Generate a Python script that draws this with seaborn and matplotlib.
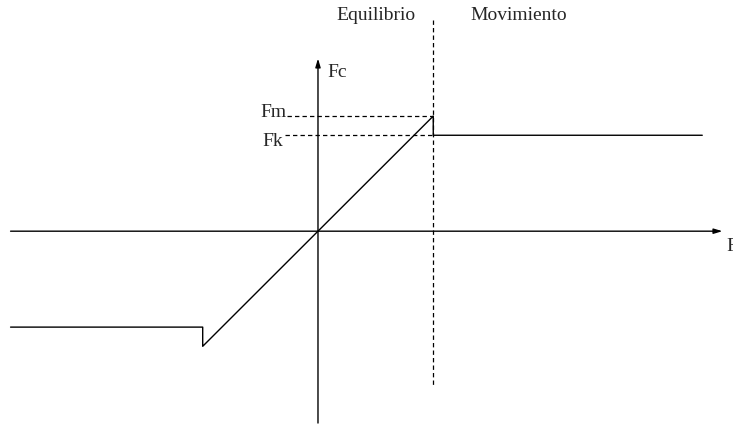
import numpy as np
import matplotlib
matplotlib.use('Agg')
import matplotlib.pyplot as plt
import seaborn as sns
import pandas as pd

# Fc(F) curve, units where Fk = 1
F_vals = [-3.2, -1.2, -1.2, 0.0, 1.2, 1.2, 4.0]
Fc_vals = [-1.0, -1.0, -1.2, 0.0, 1.2, 1.0, 1.0]
Fm = 1.2
Fk = 1.0
F_break = 1.2
region_labels = ['Equilibrio', 'Movimiento']

df = pd.DataFrame({'F': F_vals, 'Fc': Fc_vals, 'order': range(len(F_vals))})

sns.set_style('white')
plt.rcParams['font.family'] = ['Liberation Serif', 'DejaVu Serif']

fig = plt.figure(figsize=(7.33, 4.24), dpi=100)
ax = fig.add_axes([0, 0, 1, 1])
ax.set_xlim(-3.31, 4.32)
ax.set_ylim(-2.01, 2.41)
ax.axis('off')

# axes with arrows
arr = dict(arrowstyle='-|>,head_length=0.5,head_width=0.15', lw=1.0,
           color='black', shrinkA=0, shrinkB=0)
ax.annotate('', xy=(4.21, 0), xytext=(-3.2, 0), arrowprops=arr)
ax.annotate('', xy=(0, 1.80), xytext=(0, -2.0), arrowprops=arr)

# characteristic
sns.lineplot(data=df, x='F', y='Fc', sort=False, estimator=None, ax=ax,
             color='black', lw=1.0)

# dashed guides
dash = (0, (3.5, 2.5))
ax.plot([F_break, F_break], [2.2, -1.61], color='black', lw=0.9, ls=dash)
ax.plot([-0.32, F_break], [Fm, Fm], color='black', lw=0.9, ls=dash)
ax.plot([-0.34, F_break], [Fk, Fk], color='black', lw=0.9, ls=dash)

fs = 14
ax.text(0.60, 2.25, region_labels[0], ha='center', va='center', fontsize=fs)
ax.text(2.09, 2.25, region_labels[1], ha='center', va='center', fontsize=fs)
ax.text(0.10, 1.65, 'Fc', ha='left', va='center', fontsize=fs)
ax.text(-0.33, 1.24, 'Fm', ha='right', va='center', fontsize=fs)
ax.text(-0.36, 0.93, 'Fk', ha='right', va='center', fontsize=fs)
ax.text(4.25, -0.16, 'F', ha='left', va='center', fontsize=fs)

plt.savefig('out.png', dpi=100)
